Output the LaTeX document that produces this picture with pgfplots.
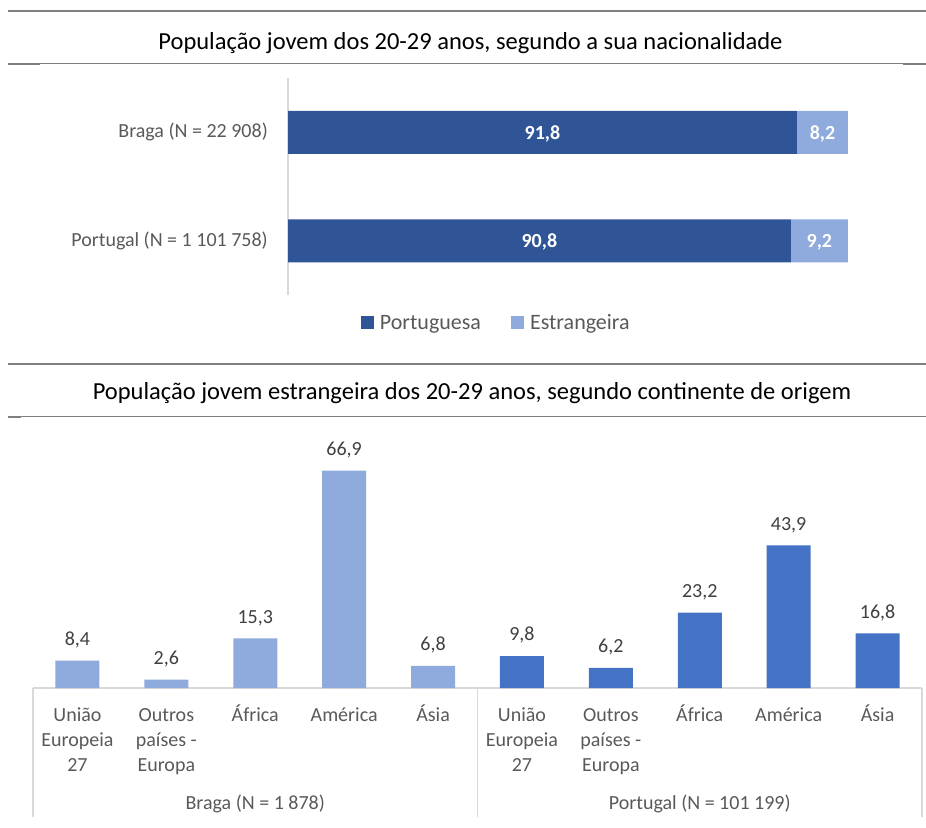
\documentclass[border=0pt]{standalone}
\usepackage{fontspec}
\setmainfont{Carlito}
\usepackage{pgfplots}
\pgfplotsset{compat=1.18}
\definecolor{dkblue}{HTML}{2F5597}
\definecolor{ltblue}{HTML}{8FAADC}
\definecolor{midblue}{HTML}{4472C4}
\definecolor{txtgray}{HTML}{595959}
\definecolor{lblgray}{HTML}{404040}
\definecolor{rulegray}{HTML}{7F7F7F}
\definecolor{axgray}{HTML}{D9D9D9}
\begin{document}
\begin{tikzpicture}
\path[use as bounding box] (0pt,0pt) rectangle (926pt,-827pt);
% ---- rules and titles
\draw[rulegray, line width=2pt] (8pt,-11pt) -- (926pt,-11pt);
\node[anchor=base, font=\fontsize{24.5}{29}\selectfont, text=black] at (470.5pt,-49pt) {População jovem dos 20-29 anos, segundo a sua nacionalidade};
\draw[rulegray, line width=1.2pt] (8pt,-63.8pt) -- (926pt,-63.8pt);
\draw[rulegray, line width=2pt] (8pt,-64.2pt) -- (40pt,-64.2pt);
\draw[rulegray, line width=2pt] (903pt,-64.2pt) -- (926pt,-64.2pt);
\draw[rulegray, line width=2pt] (8pt,-364pt) -- (926pt,-364pt);
\node[anchor=base, font=\fontsize{24.5}{29}\selectfont, text=black] at (472pt,-399pt) {População jovem estrangeira dos 20-29 anos, segundo continente de origem};
\draw[rulegray, line width=1.2pt] (8pt,-416.8pt) -- (926pt,-416.8pt);
\draw[rulegray, line width=2pt] (8pt,-417.2pt) -- (21pt,-417.2pt);
% ---- top chart
\begin{axis}[
  at={(288pt,-78pt)}, anchor=north west, scale only axis,
  width=560pt, height=217pt,
  xbar stacked, bar width=43pt,
  xmin=10, xmax=100, ymin=0.5, ymax=2.5,
  axis x line=none, axis y line*=left,
  y axis line style={axgray, line width=1.2pt},
  ytick={1,2}, yticklabels={Portugal (N = 1 101 758), Braga (N = 22 908)},
  major tick length=0pt,
  yticklabel style={font=\fontsize{20}{24}\selectfont, text=txtgray, inner sep=0pt, xshift=-20pt},
  legend style={at={(0.372,-0.129)}, anchor=center, legend columns=2, draw=none, fill=none,
    font=\fontsize{22}{26}\selectfont, text=txtgray,
    /tikz/every odd column/.append style={column sep=4pt},
    /tikz/every even column/.append style={column sep=28pt}},
  legend image code/.code={\fill[#1] (0pt,-6.5pt) rectangle (13pt,6.5pt);},
]
\addplot[fill=dkblue, draw=none] coordinates {(91.8,2) (90.8,1)};
\addlegendentry{Portuguesa}
\addplot[fill=ltblue, draw=none] coordinates {(8.2,2) (9.2,1)};
\addlegendentry{Estrangeira}
\end{axis}
% ---- top chart data labels (centred in visible segments)
\begin{axis}[
  at={(288pt,-78pt)}, anchor=north west, scale only axis,
  width=560pt, height=217pt,
  xmin=10, xmax=100, ymin=0.5, ymax=2.5, hide axis,
  /pgf/number format/use comma, /pgf/number format/fixed,
  /pgf/number format/fixed zerofill, /pgf/number format/precision=1,
  /pgf/number format/assume math mode=true,
]
\addplot[draw=none, mark=none, nodes near coords, point meta=explicit,
  every node near coord/.append style={anchor=base, inner sep=0pt, text depth=0pt, yshift=-7pt, text=white,
  font=\bfseries\fontsize{20}{24}\selectfont}]
  coordinates {(50.9,2) [91.8] (95.9,2) [8.2] (50.4,1) [90.8] (95.4,1) [9.2]};
\end{axis}
% ---- bottom chart
\begin{axis}[
  at={(33pt,-688pt)}, anchor=south west, scale only axis,
  width=889pt, height=260pt, clip=false,
  ymin=0, ymax=80, xmin=-0.5, xmax=9.5,
  ybar, bar width=44pt, bar shift=0pt,
  axis y line=none, axis x line*=bottom,
  x axis line style={axgray, line width=1.2pt},
  xtick={0,...,9},
  xticklabels={{\strut União\\Europeia\\27},{\strut Outros\\países -\\Europa},{\strut África},{\strut América},{\strut Ásia},
               {\strut União\\Europeia\\27},{\strut Outros\\países -\\Europa},{\strut África},{\strut América},{\strut Ásia}},
  major tick length=0pt,
  xticklabel style={align=center, font=\fontsize{20}{25}\selectfont, text=txtgray, inner sep=0pt, yshift=-16pt},
  extra x ticks={-0.5,4.5,9.5}, extra x tick labels={},
  extra x tick style={major tick length=129pt, tick align=outside, tick style={axgray, line width=1.2pt}},
  nodes near coords, point meta=y,
  every node near coord/.append style={inner sep=0pt, text depth=0pt, yshift=15pt, text=lblgray,
     font=\fontsize{20}{24}\selectfont},
  /pgf/number format/use comma, /pgf/number format/fixed,
  /pgf/number format/fixed zerofill, /pgf/number format/precision=1,
  /pgf/number format/assume math mode=true,
]
\addplot[fill=ltblue, draw=none] coordinates {(0,8.4) (1,2.6) (2,15.3) (3,66.9) (4,6.8)};
\addplot[fill=midblue, draw=none] coordinates {(5,9.8) (6,6.2) (7,23.2) (8,43.9) (9,16.8)};
\node[anchor=base, yshift=-121pt, font=\fontsize{20}{24}\selectfont, text=txtgray] at (axis cs:2,0) {Braga (N = 1 878)};
\node[anchor=base, yshift=-121pt, font=\fontsize{20}{24}\selectfont, text=txtgray] at (axis cs:7,0) {Portugal (N = 101 199)};
\end{axis}
\end{tikzpicture}
\end{document}
